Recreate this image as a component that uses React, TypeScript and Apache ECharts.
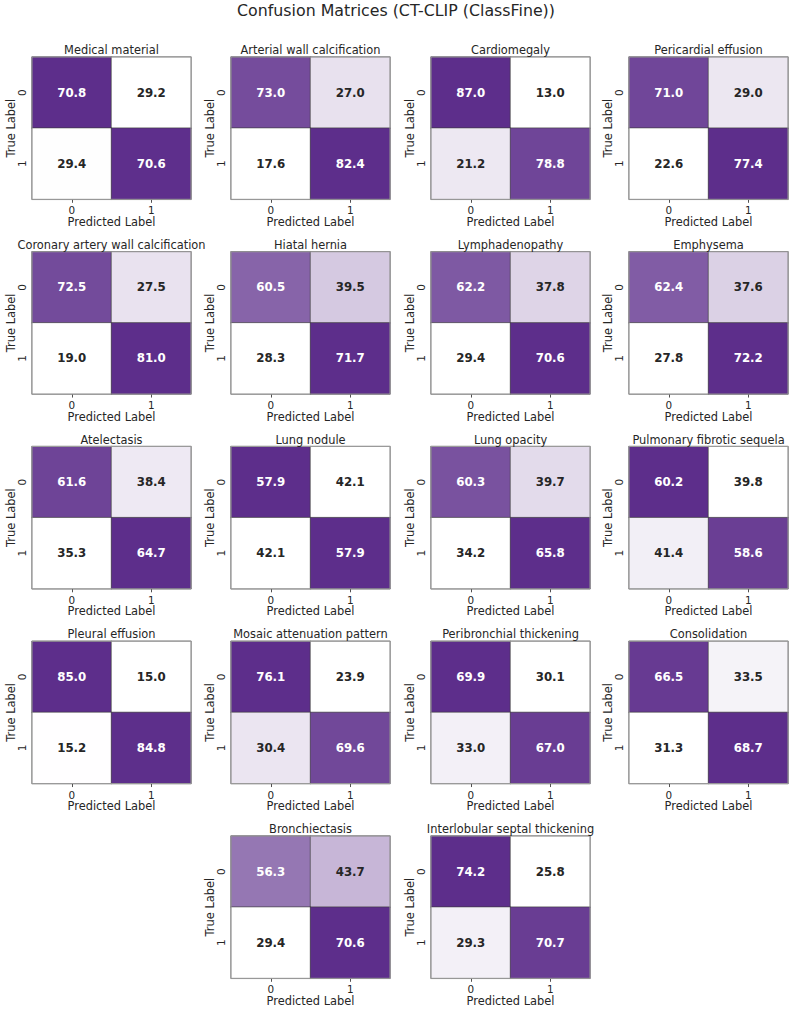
import React, { useEffect, useRef } from "react";
import * as echarts from "echarts";

const chartTitle = "Confusion Matrices (CT-CLIP (ClassFine))";
const conditions = [
  "Medical material",
  "Arterial wall calcification",
  "Cardiomegaly",
  "Pericardial effusion",
  "Coronary artery wall calcification",
  "Hiatal hernia",
  "Lymphadenopathy",
  "Emphysema",
  "Atelectasis",
  "Lung nodule",
  "Lung opacity",
  "Pulmonary fibrotic sequela",
  "Pleural effusion",
  "Mosaic attenuation pattern",
  "Peribronchial thickening",
  "Consolidation",
  "Bronchiectasis",
  "Interlobular septal thickening",
];
// row "True 0"
const true0Pred0 = [70.8, 73.0, 87.0, 71.0, 72.5, 60.5, 62.2, 62.4, 61.6, 57.9, 60.3, 60.2, 85.0, 76.1, 69.9, 66.5, 56.3, 74.2];
const true0Pred1 = [29.2, 27.0, 13.0, 29.0, 27.5, 39.5, 37.8, 37.6, 38.4, 42.1, 39.7, 39.8, 15.0, 23.9, 30.1, 33.5, 43.7, 25.8];
// row "True 1"
const true1Pred0 = [29.4, 17.6, 21.2, 22.6, 19.0, 28.3, 29.4, 27.8, 35.3, 42.1, 34.2, 41.4, 15.2, 30.4, 33.0, 31.3, 29.4, 29.3];
const true1Pred1 = [70.6, 82.4, 78.8, 77.4, 81.0, 71.7, 70.6, 72.2, 64.7, 57.9, 65.8, 58.6, 84.8, 69.6, 67.0, 68.7, 70.6, 70.7];
const tickLabels = ["0", "1"];
const xAxisTitle = "Predicted Label";
const yAxisTitle = "True Label";

const LOW = [255, 255, 255];
const HIGH = [93, 46, 139];
const FONT = "DejaVu Sans";
const TEXT = "#262626";

function cmap(t: number) {
  const s = Math.max(0, Math.min(1, t));
  return LOW.map((v, k) => v + (HIGH[k] - v) * s);
}
function lum(c: number[]) {
  const l = c.map((v) => {
    const x = v / 255;
    return x <= 0.03928 ? x / 12.92 : Math.pow((x + 0.055) / 1.055, 2.4);
  });
  return 0.2126 * l[0] + 0.7152 * l[1] + 0.0722 * l[2];
}
const rgb = (c: number[]) => `rgb(${c.map((x) => Math.round(x)).join(",")})`;

const COL_LEFT = [32, 231, 431, 629];
const ROW_TOP = [57, 251.75, 446.5, 641.25, 836];
const CELL_W = 159;
const CELL_H = 142.3;

export default function App() {
  const ref = useRef<HTMLDivElement>(null);
  useEffect(() => {
    if (!ref.current) return;
    const chart = echarts.init(ref.current, undefined, { renderer: "svg" });
    const grids: any[] = [];
    const xAxes: any[] = [];
    const yAxes: any[] = [];
    const series: any[] = [];
    const titles: any[] = [
      {
        text: chartTitle,
        left: 396,
        top: 2,
        textAlign: "center",
        padding: 0,
        textStyle: { fontFamily: FONT, fontSize: 15.8, fontWeight: "normal", color: TEXT },
      },
    ];
    conditions.forEach((name, i) => {
      const row = Math.floor(i / 4);
      const col = row === 4 ? (i % 4) + 1 : i % 4;
      const left = COL_LEFT[col];
      const top = ROW_TOP[row];
      grids.push({
        left,
        top,
        width: CELL_W,
        height: CELL_H,
        show: true,
        z: 5,
        backgroundColor: "transparent",
        borderColor: "#9a9a9a",
        borderWidth: 1,
      });
      titles.push({
        text: name,
        left: left + CELL_W / 2,
        top: top - 12.5,
        textAlign: "center",
        padding: 0,
        textStyle: { fontFamily: FONT, fontSize: 11.4, fontWeight: "normal", color: TEXT },
      });
      xAxes.push({
        type: "category",
        gridIndex: i,
        data: tickLabels,
        position: "bottom",
        name: xAxisTitle,
        nameLocation: "middle",
        nameGap: 17,
        nameTextStyle: { fontFamily: FONT, fontSize: 11.4, color: TEXT },
        axisLine: { show: false },
        axisTick: { show: true, alignWithLabel: true, length: 3.5, lineStyle: { color: TEXT, width: 0.8 } },
        axisLabel: { fontFamily: FONT, fontSize: 10.4, color: TEXT, margin: 6 },
        splitLine: { show: false },
      });
      yAxes.push({
        type: "category",
        gridIndex: i,
        data: tickLabels,
        inverse: true,
        name: yAxisTitle,
        nameLocation: "middle",
        nameGap: 16,
        nameRotate: 90,
        nameTextStyle: { fontFamily: FONT, fontSize: 11.4, color: TEXT },
        axisLine: { show: false },
        axisTick: { show: false },
        axisLabel: { fontFamily: FONT, fontSize: 10.4, color: TEXT, margin: 5, rotate: 90 },
        splitLine: { show: false },
      });
      const m = [
        [true0Pred0[i], true0Pred1[i]],
        [true1Pred0[i], true1Pred1[i]],
      ];
      const all = [m[0][0], m[0][1], m[1][0], m[1][1]];
      const mn = Math.min(...all);
      const mx = Math.max(...all);
      const data: any[] = [];
      for (let t = 0; t < 2; t++) {
        for (let p = 0; p < 2; p++) {
          const v = m[t][p];
          const norm = mx === mn ? 0 : (v - mn) / (mx - mn);
          const c = cmap(norm);
          const txt = lum(c) > 0.408 ? TEXT : "#ffffff";
          data.push({
            value: [p, t, norm, v],
            label: { color: txt },
          });
        }
      }
      series.push({
        type: "heatmap",
        xAxisIndex: i,
        yAxisIndex: i,
        data,
        itemStyle: { borderColor: "#3a3a3a", borderWidth: 0.6 },
        label: {
          show: true,
          fontFamily: FONT,
          fontSize: 11.8,
          fontWeight: "bold",
          formatter: (p: any) => p.value[3].toFixed(1),
        },
        emphasis: { disabled: true },
      });
    });
    chart.setOption({
      animation: false,
      backgroundColor: "#ffffff",
      title: titles,
      grid: grids,
      xAxis: xAxes,
      yAxis: yAxes,
      visualMap: {
        show: false,
        type: "continuous",
        dimension: 2,
        min: 0,
        max: 1,
        inRange: { color: [rgb(LOW), rgb(HIGH)] },
      },
      series,
    });
    return () => chart.dispose();
  }, []);
  return (
    <div
      ref={ref}
      style={{ position: "absolute", left: 0, top: 0, width: 793, height: 1010 }}
    />
  );
}
